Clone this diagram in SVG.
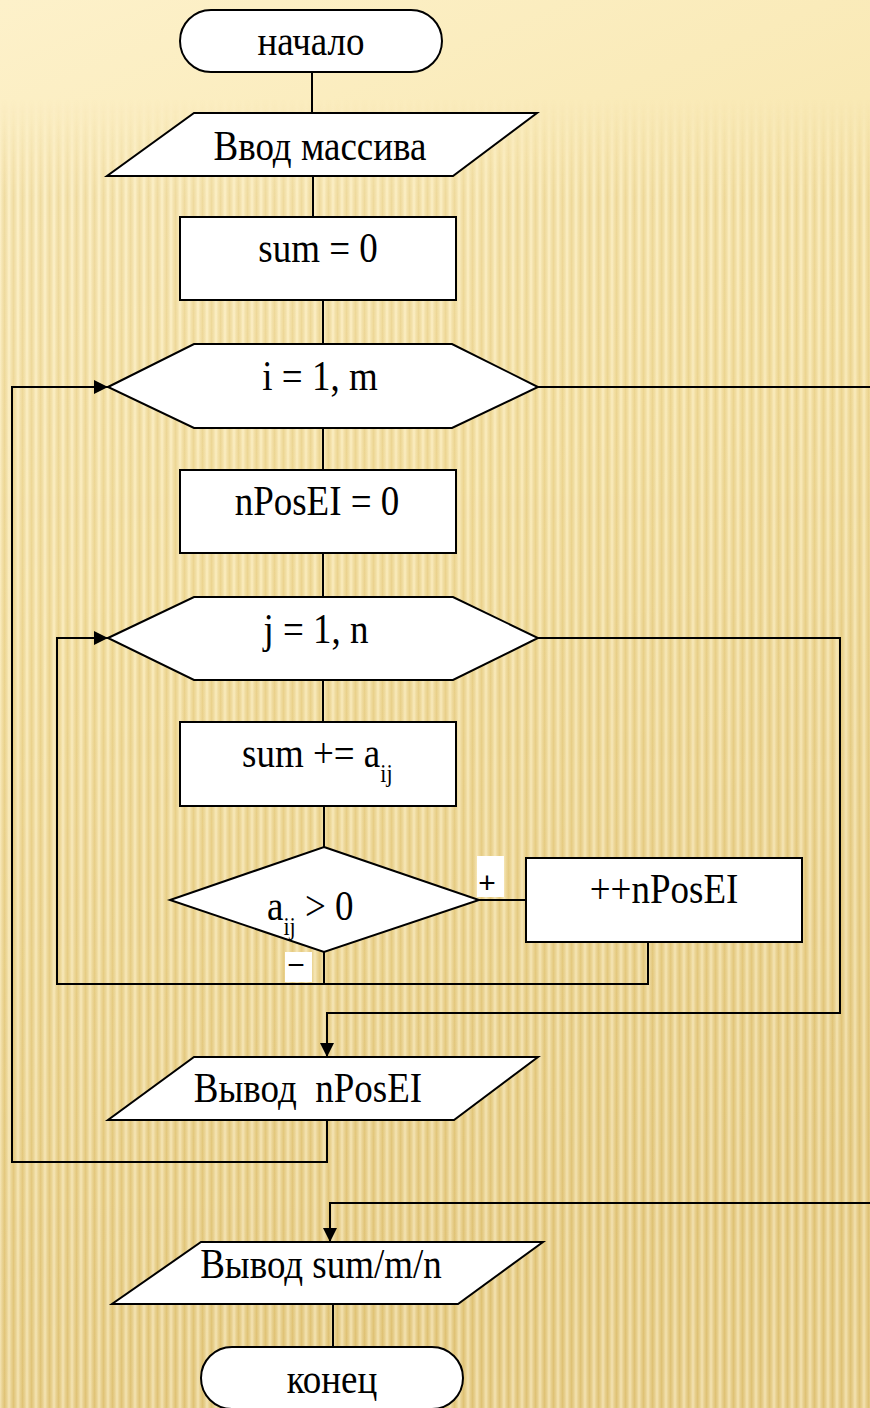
<svg xmlns="http://www.w3.org/2000/svg" width="870" height="1408" viewBox="0 0 870 1408">
<defs>
<style>
.s{fill:#fff;stroke:#000;stroke-width:2}
.c{fill:none;stroke:#000;stroke-width:2}
.t{font-family:"Liberation Serif","Times New Roman",serif;font-size:37px;fill:#000}
.m{text-anchor:middle}
.sub{font-size:22px}
.lb{font-family:"Liberation Sans",Arial,sans-serif;font-size:30px;fill:#000;text-anchor:middle}
</style>
<linearGradient id="bg" x1="0" y1="0" x2="0.25" y2="1">
<stop offset="0" stop-color="#fdf1ca"/>
<stop offset="0.45" stop-color="#f7e5aa"/>
<stop offset="1" stop-color="#e5cb84"/>
</linearGradient>
<linearGradient id="st" x1="0" y1="0" x2="1" y2="0">
<stop offset="0" stop-color="#fff6d8" stop-opacity="0.55"/>
<stop offset="0.5" stop-color="#d6b560" stop-opacity="0.4"/>
<stop offset="1" stop-color="#fff6d8" stop-opacity="0.55"/>
</linearGradient>
<pattern id="stripes" width="9" height="20" patternUnits="userSpaceOnUse">
<rect width="9" height="20" fill="url(#st)"/>
</pattern>
<linearGradient id="fade" x1="0" y1="0" x2="0" y2="1">
<stop offset="0" stop-color="#fff" stop-opacity="0"/>
<stop offset="0.07" stop-color="#fff" stop-opacity="0"/>
<stop offset="0.14" stop-color="#fff" stop-opacity="0.8"/>
<stop offset="1" stop-color="#fff" stop-opacity="1"/>
</linearGradient>
<mask id="fm"><rect width="870" height="1408" fill="url(#fade)"/></mask>
<marker id="ar" viewBox="0 0 12 12" refX="12" refY="6" markerWidth="14" markerHeight="14" markerUnits="userSpaceOnUse" orient="auto">
<path d="M0,0 L12,6 L0,12 Z" fill="#000"/>
</marker>
</defs>
<rect width="870" height="1408" fill="url(#bg)"/>
<rect width="870" height="1408" fill="url(#stripes)" mask="url(#fm)"/>

<g id="connectors">
<path class="c" d="M312,72 V113"/>
<path class="c" d="M313,176 V217"/>
<path class="c" d="M323,300 V344"/>
<path class="c" d="M323,428 V470"/>
<path class="c" d="M323,553 V597"/>
<path class="c" d="M323,680 V722"/>
<path class="c" d="M324,806 V847"/>
<path class="c" d="M479,900 H526"/>
<path class="c" d="M324,952 V984"/>
<path class="c" d="M648,942 V984 H57 V638 H108" marker-end="url(#ar)"/>
<path class="c" d="M538,638 H840 V1013 H327 V1057" marker-end="url(#ar)"/>
<path class="c" d="M327,1120 V1162 H12 V387 H108" marker-end="url(#ar)"/>
<path class="c" d="M538,387 H872"/>
<path class="c" d="M872,1203 H330 V1242" marker-end="url(#ar)"/>
<path class="c" d="M333,1304 V1347"/>
</g>

<g id="start">
<rect class="s" x="180" y="10" width="262" height="62" rx="31"/>
<text class="t m" transform="translate(311,55) scale(1,1.12)">начало</text>
</g>
<g id="input">
<polygon class="s" points="194,113 537,113 453,176 107,176"/>
<text class="t m" transform="translate(320,160) scale(1,1.12)">Ввод массива</text>
</g>
<g id="sum0">
<rect class="s" x="180" y="217" width="276" height="83"/>
<text class="t m" transform="translate(318,262) scale(1,1.12)">sum = 0</text>
</g>
<g id="loopI">
<polygon class="s" points="108,387 194,344 452,344 538,387 452,428 194,428"/>
<text class="t m" transform="translate(320,390) scale(1,1.12)">i = 1, m</text>
</g>
<g id="npos0">
<rect class="s" x="180" y="470" width="276" height="83"/>
<text class="t m" transform="translate(317,515) scale(1,1.12)">nPosEI = 0</text>
</g>
<g id="loopJ">
<polygon class="s" points="108,638 194,597 453,597 538,638 453,680 194,680"/>
<text class="t m" transform="translate(316,643) scale(1,1.12)">j = 1, n</text>
</g>
<g id="sumadd">
<rect class="s" x="180" y="722" width="276" height="84"/>
<text class="t" transform="translate(242,767) scale(1,1.12)">sum += a<tspan class="sub" dy="13">ij</tspan></text>
</g>
<g id="cond">
<polygon class="s" points="324,847 479,900 324,952 170,900"/>
<text class="t" transform="translate(267,920) scale(1,1.12)">a<tspan class="sub" dy="13">ij</tspan><tspan dy="-13"> &gt; 0</tspan></text>
</g>
<g id="labelPlus">
<rect x="477" y="856" width="27" height="41" fill="#fff"/>
<text class="lb" x="487" y="893">+</text>
</g>
<g id="inc">
<rect class="s" x="526" y="858" width="276" height="84"/>
<text class="t m" transform="translate(664,903) scale(1,1.12)">++nPosEI</text>
</g>
<g id="labelMinus">
<rect x="285" y="952" width="27" height="30" fill="#fff"/>
<text class="lb" x="296" y="975">−</text>
</g>
<g id="outN">
<polygon class="s" points="194,1057 538,1057 454,1120 108,1120"/>
<text class="t m" transform="translate(308,1102) scale(1,1.12)" xml:space="preserve">Вывод  nPosEI</text>
</g>
<g id="outSum">
<polygon class="s" points="201,1242 543,1242 458,1304 112,1304"/>
<text class="t m" transform="translate(321,1278) scale(1,1.12)">Вывод sum/m/n</text>
</g>
<g id="end">
<rect class="s" x="201" y="1347" width="262" height="62" rx="31"/>
<text class="t m" transform="translate(332,1393) scale(1,1.12)">конец</text>
</g>
</svg>
